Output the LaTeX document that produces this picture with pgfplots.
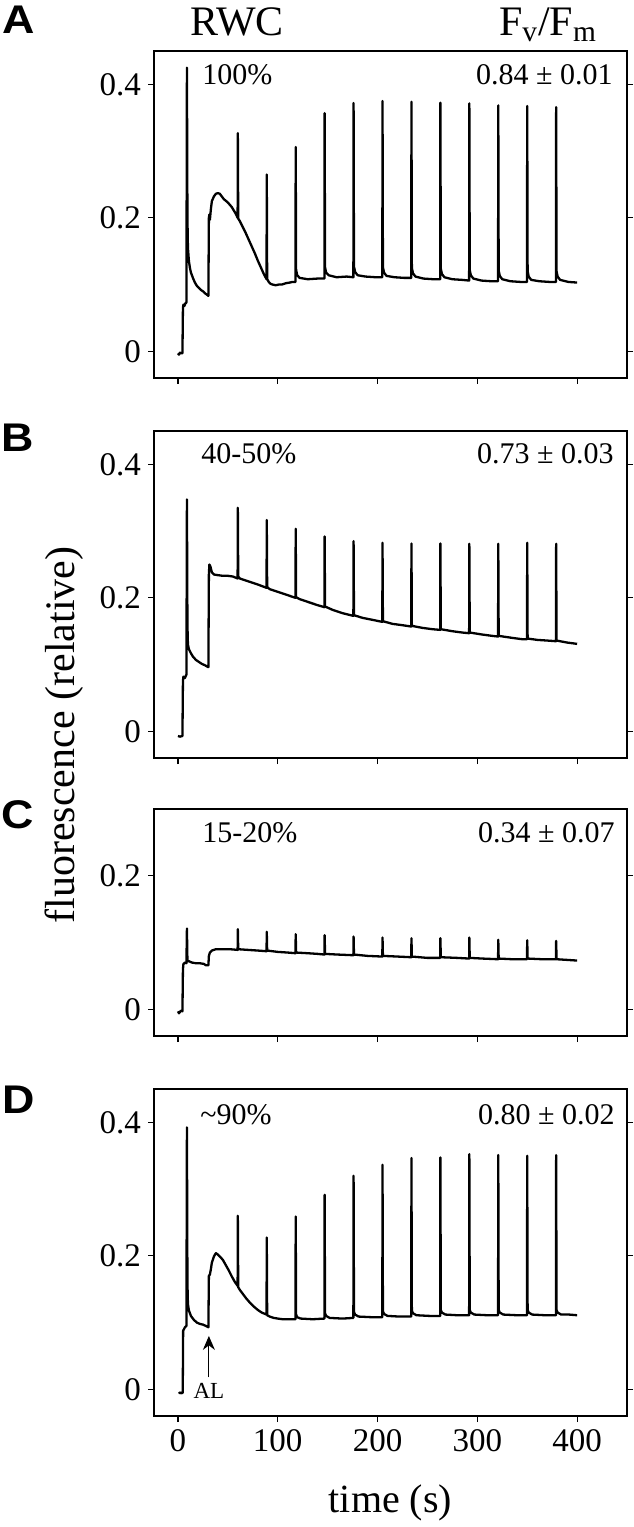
\documentclass[border=0pt]{standalone}
\usepackage{fontspec}
\setmainfont{Liberation Serif}
\newfontfamily\panelfont{Liberation Sans}
\usepackage{graphicx}
\usepackage{pgfplots}
\pgfplotsset{compat=1.18}
\usetikzlibrary{arrows.meta}

\pgfplotsset{
  panel/.style={
    scale only axis, width=236.5pt,
    xmin=-24, xmax=450, ymin=-0.04,
    xtick={0,100,200,300,400},
    tick align=outside, xtick pos=bottom, ytick pos=both, yticklabel pos=left,
    major tick length=3pt,
    tick label style={font=\fontsize{16.5}{19}\selectfont},
    /pgf/number format/assume math mode=true,
    axis line style={line width=0.6pt},
    every tick/.style={black, line width=0.6pt},
  },
  trace/.style={black, line width=1.15pt, line join=round, no marks},
}
\newcommand{\annot}{\fontsize{15}{18}\selectfont}
\newcommand{\plet}[1]{\scalebox{1.12}[1]{\panelfont\bfseries\fontsize{20}{24}\selectfont #1}}

\begin{document}
\begin{tikzpicture}
\path[use as bounding box] (0,0) rectangle (316.5pt,-763.5pt);

% titles
\node[anchor=base, font=\fontsize{21}{24}\selectfont] at (118.5pt,-17.5pt) {RWC};
\node[anchor=base, font=\fontsize{21}{24}\selectfont] at (274pt,-17.5pt) {F\textsubscript{v}/F\textsubscript{m}};
\node[rotate=90, font=\fontsize{21}{24}\selectfont] at (32pt,-367.5pt) {fluorescence (relative)};
\node[font=\fontsize{20}{24}\selectfont] at (195.25pt,-751.5pt) {time (s)};
% panel letters
\node[anchor=base west, inner sep=0pt] at (1pt,-16.5pt) {\plet{A}};
\node[anchor=base west, inner sep=0pt] at (0.5pt,-225.8pt) {\plet{B}};
\node[anchor=base west, inner sep=0pt] at (0.5pt,-414pt) {\plet{C}};
\node[anchor=base west, inner sep=0pt] at (1pt,-556.5pt) {\plet{D}};

% ---------------- A ----------------
\begin{axis}[panel, at={(77pt,-25.5pt)}, anchor=north west, height=163.5pt,
  ymax=0.45, ytick={0,0.2,0.4}, xticklabels={}]
\addplot[trace] coordinates {
(0,-0.003)(1,-0.005)(2,-0.002)(3,-0.003)(4.5,-0.003)(5,0.065)(5.5,0.07)(6.5,0.068)(7.5,0.072)(8.5,0.073)
(9,0.425)(9.5,0.2)(10,0.155)(11,0.135)(12,0.125)(13,0.118)(15,0.11)(17,0.103)(19,0.098)(21,0.095)(23,0.092)(25,0.09)(27,0.087)(29,0.085)(30.5,0.083)
(31,0.2)(31.5,0.205)(32,0.197)(33,0.213)(34,0.225)(36,0.232)(38,0.236)(40,0.237)(42,0.236)(44,0.232)(46,0.228)(50,0.223)(54,0.216)(58,0.206)(59.8,0.2)
(60,0.327)(60.4,0.199)(62,0.195)(65,0.186)(68,0.177)(71,0.167)(74,0.157)(77,0.147)(80,0.136)(83,0.126)(86,0.116)(88.8,0.108)
(89,0.265)(89.4,0.108)(91,0.104)(93,0.101)(95,0.1)(98,0.099)(101,0.1)(104,0.1)(108,0.102)(112,0.103)(115,0.104)
(117.8,0.104)(118,0.306)(118.4,0.122)(119.5,0.114)(122,0.110)(130,0.108)(140,0.109)(146.8,0.109)
(147,0.357)(147.4,0.126)(148.5,0.118)(151,0.114)(159,0.111)(169,0.112)(175.8,0.111)
(176,0.372)(176.4,0.127)(177.5,0.119)(180,0.114)(188,0.112)(198,0.111)(204.8,0.111)
(205,0.375)(205.4,0.126)(206.5,0.118)(209,0.113)(217,0.111)(227,0.110)(233.8,0.110)
(234,0.374)(234.4,0.125)(235.5,0.117)(238,0.112)(246,0.109)(256,0.108)(262.8,0.108)
(263,0.3725)(263.4,0.124)(264.5,0.116)(267,0.111)(275,0.108)(285,0.107)(291.8,0.106)
(292,0.3715)(292.4,0.122)(293.5,0.114)(296,0.109)(304,0.106)(314,0.105)(320.8,0.105)
(321,0.3685)(321.4,0.121)(322.5,0.113)(325,0.108)(333,0.105)(343,0.104)(349.8,0.104)
(350,0.3675)(350.4,0.120)(351.5,0.112)(354,0.107)(362,0.105)(372,0.104)(378.8,0.104)
(379,0.366)(379.4,0.120)(380.5,0.112)(383,0.107)(391,0.104)(400,0.103)
};
\node[anchor=base west, font=\annot, inner sep=0pt] at (axis cs:24,0.4) {100\%};
\node[anchor=base east, font=\annot, inner sep=0pt] at (axis cs:436,0.4) {0.84 ± 0.01};
\end{axis}

% ---------------- B ----------------
\begin{axis}[panel, at={(77pt,-215.5pt)}, anchor=north west, height=163.5pt,
  ymax=0.45, ytick={0,0.2,0.4}, xticklabels={}]
\addplot[trace] coordinates {
(0,-0.007)(2,-0.008)(4.5,-0.007)(5,0.075)(5.5,0.082)(7,0.08)(8.5,0.085)
(9,0.3475)(9.5,0.16)(10,0.13)(11,0.123)(13,0.117)(15,0.112)(18,0.107)(21,0.104)(24,0.101)(27,0.099)(30.5,0.096)
(31,0.235)(31.5,0.25)(32.5,0.247)(34,0.238)(36,0.235)(40,0.234)(45,0.233)(50,0.233)(55,0.232)
(59.8,0.229)(60,0.335)(60.4,0.232)(62,0.229)(66,0.227)(72,0.224)(80,0.22)(88.8,0.215)
(89,0.3165)(89.4,0.216)(92,0.213)(100,0.209)(110,0.204)(117.8,0.2)
(118,0.3035)(118.4,0.201)(122,0.198)(130,0.194)(140,0.189)(146.8,0.186)
(147,0.292)(147.4,0.187)(155,0.182)(165,0.177)(175.8,0.173)
(176,0.285)(176.4,0.174)(185,0.17)(195,0.167)(204.8,0.164)
(205,0.2825)(205.4,0.165)(215,0.161)(225,0.159)(233.8,0.157)
(234,0.2815)(234.4,0.158)(245,0.155)(255,0.153)(262.8,0.152)
(263,0.2815)(263.4,0.153)(275,0.15)(285,0.148)(291.8,0.147)
(292,0.281)(292.4,0.148)(305,0.145)(315,0.143)(320.8,0.142)
(321,0.281)(321.4,0.143)(335,0.14)(345,0.138)(349.8,0.138)
(350,0.2825)(350.4,0.139)(360,0.137)(370,0.136)(378.8,0.135)
(379,0.281)(379.4,0.136)(390,0.133)(400,0.131)
};
\node[anchor=base west, font=\annot, inner sep=0pt] at (axis cs:23,0.402) {40-50\%};
\node[anchor=base east, font=\annot, inner sep=0pt] at (axis cs:437,0.402) {0.73 ± 0.03};
\end{axis}

% ---------------- C ----------------
\begin{axis}[panel, at={(77pt,-404.5pt)}, anchor=north west, height=113.5pt,
  ymax=0.30, ytick={0,0.2}, xticklabels={}]
\addplot[trace] coordinates {
(0,-0.003)(1,-0.006)(2,-0.004)(3,-0.002)(4.5,-0.003)(5,0.06)(5.5,0.068)(7,0.07)(8.5,0.069)
(9,0.121)(9.5,0.072)(11,0.072)(14,0.07)(18,0.069)(22,0.069)(26,0.068)(28,0.066)(30.5,0.066)
(31,0.08)(32,0.085)(34,0.088)(38,0.09)(45,0.09)(52,0.09)
(59.8,0.089)(60,0.12)(60.4,0.09)(70,0.089)(80,0.088)(88.8,0.087)
(89,0.116)(89.4,0.088)(100,0.086)(110,0.085)(117.8,0.084)
(118,0.1125)(118.4,0.085)(130,0.084)(140,0.083)(146.8,0.082)
(147,0.111)(147.4,0.083)(160,0.082)(175.8,0.081)
(176,0.109)(176.4,0.082)(190,0.08)(204.8,0.079)
(205,0.1075)(205.4,0.08)(220,0.079)(233.8,0.078)
(234,0.1065)(234.4,0.079)(250,0.077)(262.8,0.077)
(263,0.1065)(263.4,0.078)(280,0.077)(291.8,0.076)
(292,0.1075)(292.4,0.077)(305,0.076)(320.8,0.075)
(321,0.104)(321.4,0.076)(335,0.075)(349.8,0.075)
(350,0.1035)(350.4,0.076)(365,0.075)(378.8,0.075)
(379,0.1025)(379.4,0.075)(390,0.074)(400,0.073)
};
\node[anchor=base west, font=\annot, inner sep=0pt] at (axis cs:24,0.25) {15-20\%};
\node[anchor=base east, font=\annot, inner sep=0pt] at (axis cs:438,0.25) {0.34 ± 0.07};
\end{axis}

% ---------------- D ----------------
\begin{axis}[panel, at={(77pt,-544.5pt)}, anchor=north west, height=163.5pt,
  ymax=0.45, ytick={0,0.2,0.4}]
\addplot[trace] coordinates {
(1,-0.004)(2,-0.006)(3,-0.005)(4,-0.006)(4.8,-0.005)(5.2,0.088)(6,0.09)(7,0.093)(8.5,0.095)
(9,0.3925)(9.5,0.16)(10,0.128)(11,0.118)(13,0.11)(16,0.104)(19,0.1)(22,0.098)(25,0.097)(28,0.095)(30.5,0.093)
(31,0.17)(32,0.172)(33,0.18)(34,0.19)(36,0.199)(38,0.204)(40,0.202)(42,0.199)(45,0.194)(48,0.186)(51,0.178)(54,0.169)(57,0.161)(59.8,0.155)
(60,0.26)(60.4,0.153)(62,0.149)(64,0.145)(68,0.137)(72,0.13)(76,0.124)(80,0.119)(84,0.115)(88.8,0.112)
(89,0.2275)(89.4,0.111)(92,0.109)(96,0.107)(100,0.106)(105,0.105)(110,0.105)
(117.8,0.105)(118,0.259)(118.4,0.112)(119.5,0.108)(123,0.106)(135,0.105)(146.8,0.106)
(147,0.2915)(147.4,0.114)(148.5,0.11)(152,0.107)(165,0.106)(175.8,0.107)
(176,0.32)(176.4,0.116)(177.5,0.112)(181,0.109)(195,0.108)(204.8,0.108)
(205,0.3365)(205.4,0.117)(206.5,0.113)(210,0.11)(222,0.109)(233.8,0.109)
(234,0.3465)(234.4,0.118)(235.5,0.114)(239,0.111)(252,0.11)(262.8,0.11)
(263,0.3475)(263.4,0.119)(264.5,0.115)(268,0.112)(280,0.111)(291.8,0.111)
(292,0.3525)(292.4,0.119)(293.5,0.115)(297,0.112)(310,0.111)(320.8,0.111)
(321,0.351)(321.4,0.119)(322.5,0.115)(326,0.112)(340,0.111)(349.8,0.111)
(350,0.35)(350.4,0.119)(351.5,0.115)(355,0.112)(368,0.111)(378.8,0.111)
(379,0.351)(379.4,0.119)(380.5,0.115)(384,0.112)(392,0.112)(400,0.111)
};
\node[anchor=base west, font=\annot, inner sep=0pt] at (axis cs:22,0.397) {\textasciitilde 90\%};
\node[anchor=base east, font=\annot, inner sep=0pt] at (axis cs:438,0.397) {0.80 ± 0.02};
\draw[line width=0.6pt, -{Stealth[length=7pt,width=6pt]}] (axis cs:31,0.018) -- (axis cs:31,0.08);
\node[font=\fontsize{11.5}{14}\selectfont, inner sep=0pt] at (axis cs:31,-0.003) {AL};
\end{axis}
\end{tikzpicture}
\end{document}
